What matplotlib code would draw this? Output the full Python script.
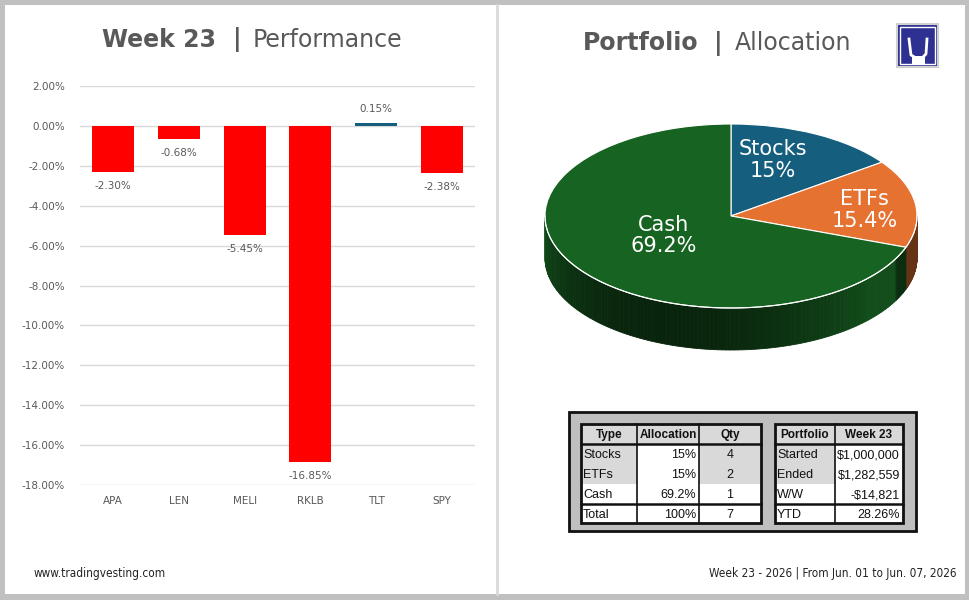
import numpy as np
import matplotlib
matplotlib.use("Agg")
import matplotlib.pyplot as plt
from matplotlib.patches import Rectangle, Polygon
from matplotlib.colors import to_rgb

# ---- data ----
tickers = ["APA", "LEN", "MELI", "RKLB", "TLT", "SPY"]
week_returns = [-2.30, -0.68, -5.45, -16.85, 0.15, -2.38]

alloc_labels = ["Stocks", "ETFs", "Cash"]
alloc_values = [15.0, 15.4, 69.2]
alloc_colors = ["#155e7e", "#e57231", "#176322"]

table_types = ["Stocks", "ETFs", "Cash", "Total"]
table_alloc = ["15%", "15%", "69.2%", "100%"]
table_qty = ["4", "2", "1", "7"]
port_rows = ["Started", "Ended", "W/W", "YTD"]
port_vals = ["$1,000,000", "$1,282,559", "-$14,821", "28.26%"]

TXT = "#595959"
W, H = 970, 600

fig = plt.figure(figsize=(9.7, 6), dpi=100)
fig.patch.set_facecolor("#c0c0c0")


def px_axes(x0, y0, x1, y1, **kw):
    # axes placed by pixel box (top-left origin)
    return fig.add_axes([x0 / W, 1 - y1 / H, (x1 - x0) / W, (y1 - y0) / H], **kw)


# background canvas in pixel coords
bg = px_axes(0, 0, W, H)
bg.set_xlim(0, W)
bg.set_ylim(H, 0)
bg.axis("off")
bg.add_patch(Rectangle((5, 5), 960, 589, facecolor="white", edgecolor="none"))
bg.plot([497, 497], [5, 594], color="#d9d9d9", lw=2)

# titles
bg.text(216, 40, "Week 23", ha="right", va="center", fontsize=17, fontweight="bold", color=TXT)
bg.text(233, 40, "|", ha="left", va="center", fontsize=17, fontweight="bold", color=TXT)
bg.text(253, 40, "Performance", ha="left", va="center", fontsize=17, color=TXT)
bg.text(699, 43, "Portfolio", ha="right", va="center", fontsize=17, fontweight="bold", color=TXT)
bg.text(714, 43, "|", ha="left", va="center", fontsize=17, fontweight="bold", color=TXT)
bg.text(735, 43, "Allocation", ha="left", va="center", fontsize=17, color=TXT)

# logo
bg.add_patch(Rectangle((897, 24), 41, 43, facecolor="#2e3192", edgecolor="#d0d0d0", lw=1.5))
bg.add_patch(Rectangle((900, 27), 35, 37, facecolor="none", edgecolor="white", lw=1))
bg.plot([909, 911, 916, 922, 926, 927], [39, 55, 58, 58, 54, 39], color="white", lw=2)
bg.add_patch(Rectangle((912, 56), 13, 8, facecolor="white", edgecolor="none"))

# footer
bg.text(34, 573, "www.tradingvesting.com", ha="left", va="center", fontsize=8.5,
        family="DejaVu Sans", fontstretch="condensed", color="#222222")
bg.text(957, 573, "Week 23 - 2026 | From Jun. 01 to Jun. 07, 2026", ha="right", va="center",
        fontsize=8.5, family="DejaVu Sans", fontstretch="condensed", color="#222222")

# ---- bar chart ----
ax = px_axes(80, 86, 475, 485)
x = np.arange(len(tickers))
bar_colors = ["#ff0000" if v < 0 else "#155e7e" for v in week_returns]
ax.bar(x, week_returns, width=0.64, color=bar_colors, zorder=3)
ax.set_xlim(-0.5, len(tickers) - 0.5)
ax.set_ylim(-18, 2)
yt = np.arange(-18, 2.1, 2)
ax.set_yticks(yt)
ax.set_yticklabels([f"{v:.2f}%" for v in yt], fontsize=7.5, color=TXT)
ax.set_xticks(x)
ax.set_xticklabels(tickers, fontsize=7.5, color=TXT)
ax.tick_params(length=0, pad=11)
ax.tick_params(axis="x", pad=8)
ax.grid(axis="y", color="#d9d9d9", lw=1, zorder=0)
for s in ax.spines.values():
    s.set_visible(False)
for xi, v in zip(x, week_returns):
    off = -0.7 if v < 0 else 0.7
    ax.text(xi, v + off, f"{v:.2f}%", ha="center", va="center", fontsize=7.5, color=TXT)

# ---- 3D pie ----
cx, cy, rx, ry, depth = 731, 216, 186, 92, 42
pa = px_axes(cx - 200, cy - 110, cx + 200, cy + 150)
pa.axis("off")
wedges, _ = pa.pie(alloc_values, colors=alloc_colors, startangle=90, counterclock=False,
                   radius=1, wedgeprops=dict(edgecolor="white", linewidth=0.8))
pa.set_aspect("auto")
pa.set_xlim(-200 / rx, 200 / rx)
pa.set_ylim(-150 / ry, 110 / ry)
d = depth / ry

# side walls for front half
for w in wedges:
    base = np.array(to_rgb(w.get_facecolor()))
    angs = np.linspace(w.theta1, w.theta2, 200)
    for i in range(len(angs) - 1):
        m = (angs[i] + angs[i + 1]) / 2 % 360
        if not (180 <= m <= 360):
            continue
        t = np.radians([angs[i], angs[i + 1]])
        xs = np.cos(t)
        ys = np.sin(t)
        frac = (m - 180) / 180
        shade = 0.78 - 0.42 * np.sin(np.pi * min(frac * 1.3, 1.0))
        if frac > 0.85:
            shade = min(shade, 0.45)
        col = base * shade
        poly = Polygon([(xs[0], ys[0]), (xs[1], ys[1]), (xs[1], ys[1] - d), (xs[0], ys[0] - d)],
                       closed=True, facecolor=col, edgecolor=col, lw=0.6, zorder=0)
        pa.add_patch(poly)
th = np.radians(np.linspace(180, 360, 200))
pa.plot(np.cos(th), np.sin(th), color="white", lw=0.8, zorder=1)

# label anchors (radius, angle tweak in degrees)
label_pos = [(0.65, 7), (0.72, -3), (0.42, -5)]
for w, lab, v, (r, da) in zip(wedges, alloc_labels, alloc_values, label_pos):
    mid = np.radians((w.theta1 + w.theta2) / 2 + da)
    pa.text(r * np.cos(mid), r * np.sin(mid), f"{lab}\n{v:g}%", ha="center", va="center",
            fontsize=15, color="white", linespacing=1.1, zorder=5)

# ---- tables ----
bg.add_patch(Rectangle((569, 412), 347, 119, facecolor="#bfbfbf", edgecolor="#111111", lw=2))

row_y = [424, 444, 464, 484, 504, 523]
FT = ["Liberation Sans", "DejaVu Sans"]


def draw_table(cols, header, rows, gray_cells, aligns):
    for ri in range(5):
        for ci in range(len(cols) - 1):
            fc = "#d9d9d9" if (ri, ci) in gray_cells else "white"
            bg.add_patch(Rectangle((cols[ci], row_y[ri]), cols[ci + 1] - cols[ci],
                                   row_y[ri + 1] - row_y[ri], facecolor=fc, edgecolor="none"))
    for ci, h in enumerate(header):
        bg.text((cols[ci] + cols[ci + 1]) / 2, (row_y[0] + row_y[1]) / 2 + 1, h, ha="center",
                va="center", fontsize=8.5, fontweight="bold", family=FT, color="#111111")
    for ri, row in enumerate(rows):
        yc = (row_y[ri + 1] + row_y[ri + 2]) / 2 + 1
        for ci, val in enumerate(row):
            al = aligns[ci]
            if al == "left":
                xt = cols[ci] + 2
            elif al == "right":
                xt = cols[ci + 1] - 3
            else:
                xt = (cols[ci] + cols[ci + 1]) / 2
            bg.text(xt, yc, val, ha=al, va="center", fontsize=9, family=FT, color="#111111")
    # borders
    for c in cols[1:-1]:
        bg.plot([c, c], [row_y[0], row_y[-1]], color="#111111", lw=1.2)
    for yy in (row_y[1], row_y[4]):
        bg.plot([cols[0], cols[-1]], [yy, yy], color="#111111", lw=1.8)
    bg.add_patch(Rectangle((cols[0], row_y[0]), cols[-1] - cols[0], row_y[-1] - row_y[0],
                           facecolor="none", edgecolor="#111111", lw=2))


draw_table([581, 637, 699, 761], ["Type", "Allocation", "Qty"],
           list(zip(table_types, table_alloc, table_qty)),
           {(0, 0), (0, 1), (0, 2), (1, 0), (1, 2), (2, 0), (2, 2)},
           ["left", "right", "center"])
draw_table([775, 835, 903], ["Portfolio", "Week 23"],
           list(zip(port_rows, port_vals)),
           {(0, 0), (0, 1), (1, 0), (2, 0)},
           ["left", "right"])

fig.savefig("out.png", dpi=100, facecolor=fig.get_facecolor())
